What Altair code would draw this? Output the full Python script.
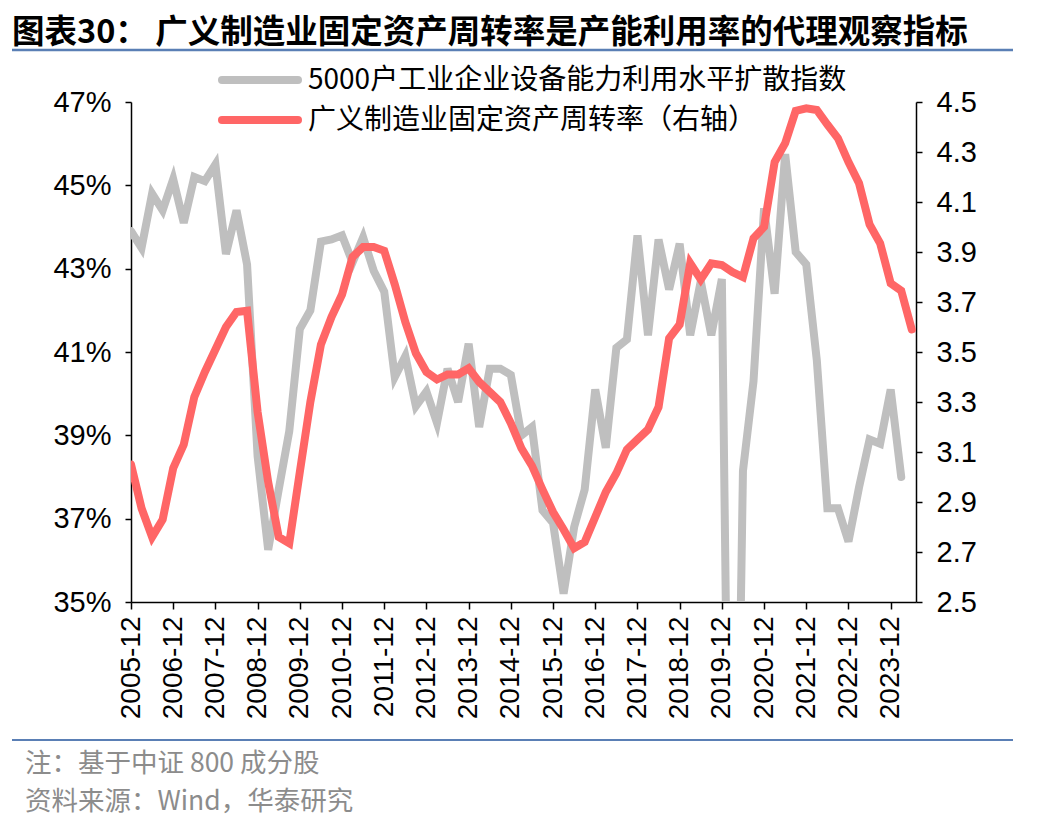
import altair as alt
import pandas as pd

# ---------------- data ----------------
title_text = "图表30：  广义制造业固定资产周转率是产能利用率的代理观察指标"
series_names = ["5000户工业企业设备能力利用水平扩散指数", "广义制造业固定资产周转率（右轴）"]
note_lines = ["注：基于中证 800 成分股", "资料来源：Wind，华泰研究"]

tick_labels = ["2005-12", "2006-12", "2007-12", "2008-12", "2009-12", "2010-12",
               "2011-12", "2012-12", "2013-12", "2014-12", "2015-12", "2016-12",
               "2017-12", "2018-12", "2019-12", "2020-12", "2021-12", "2022-12",
               "2023-12"]

# quarterly, starting 2005-12 (left axis, %)
utilization = [43.9, 43.5, 44.8, 44.4, 45.15, 44.1, 45.2, 45.1, 45.5, 43.35,
               44.4, 43.1, 38.5, 36.25, 37.7, 39.1, 41.55, 42.0, 43.65, 43.7,
               43.8, 43.15, 43.75, 42.95, 42.45, 40.4, 40.9, 39.7, 40.05, 39.3,
               40.6, 39.8, 41.2, 39.2, 40.6, 40.6, 40.45, 39.0, 39.2, 37.2,
               36.9, 35.2, 36.8, 37.7, 40.1, 38.7, 41.1, 41.3, 43.8, 41.4,
               43.7, 42.5, 43.6, 41.4, 42.7, 41.4, 42.75, 22.0, 38.15, 40.3,
               44.45, 42.4, 45.75, 43.4, 43.1, 40.8, 37.25, 37.25, 36.45, 37.75,
               38.9, 38.8, 40.1, 38.0]

# quarterly, starting 2005-12 (right axis)
turnover = [3.05, 2.875, 2.76, 2.83, 3.035, 3.13, 3.32, 3.42, 3.51, 3.60,
            3.66, 3.665, 3.26, 2.98, 2.76, 2.735, 3.02, 3.30, 3.53, 3.64,
            3.73, 3.88, 3.92, 3.92, 3.905, 3.77, 3.62, 3.495, 3.42, 3.39,
            3.41, 3.41, 3.435, 3.38, 3.34, 3.30, 3.215, 3.115, 3.045, 2.95,
            2.86, 2.79, 2.715, 2.74, 2.84, 2.94, 3.015, 3.11, 3.15, 3.19,
            3.28, 3.555, 3.61, 3.855, 3.79, 3.855, 3.848, 3.82, 3.80, 3.955,
            4.0, 4.26, 4.335, 4.465, 4.475, 4.468, 4.41, 4.355, 4.26, 4.175,
            4.01, 3.935, 3.775, 3.745, 3.59]

left_ticks = [35, 37, 39, 41, 43, 45, 47]
right_ticks = [2.5, 2.7, 2.9, 3.1, 3.3, 3.5, 3.7, 3.9, 4.1, 4.3, 4.5]

# ---------------- styling ----------------
GRAY = "#BFBFBF"
RED = "#FF6666"
BLUE = "#5A7FB5"
NUM_FONT = "Liberation Sans"
CJK_FONT = "Noto Sans CJK SC"
W, H = 785, 500

gray_df = pd.DataFrame({"q": list(range(len(utilization))), "v": utilization})
red_df = pd.DataFrame({"q": list(range(len(turnover))), "v": turnover})

label_array = "[" + ",".join("'" + t + "'" for t in tick_labels) + "]"
x_values = [4 * i for i in range(len(tick_labels))]

x_enc = alt.X(
    "q:Q",
    scale=alt.Scale(domain=[0, 74.4], nice=False, zero=False),
    axis=alt.Axis(
        values=x_values, labelExpr=label_array + "[round(datum.value/4)]",
        labelAngle=270, labelAlign="right", labelBaseline="middle",
        labelFont=NUM_FONT, labelFontSize=28, labelColor="black", labelPadding=7,
        tickSize=7, tickColor="black", tickWidth=1.5, domainColor="black",
        domainWidth=1.5, grid=False, title=None, labelOverlap=False,
    ),
)

axis_common = dict(labelFont=NUM_FONT, labelFontSize=29, labelColor="black",
                   tickSize=6, tickColor="black", tickWidth=1.5, domainColor="black",
                   domainWidth=1.5, grid=False, title=None, labelOverlap=False)

gray_line = alt.Chart(gray_df).mark_line(
    color=GRAY, strokeWidth=8, clip=True, strokeCap="round"
).encode(
    x=x_enc,
    y=alt.Y("v:Q", scale=alt.Scale(domain=[35, 47], nice=False, zero=False),
            axis=alt.Axis(orient="left", values=left_ticks,
                          labelExpr="datum.value + '%'", labelPadding=14,
                          **axis_common)),
)

red_line = alt.Chart(red_df).mark_line(
    color=RED, strokeWidth=8, clip=True, strokeCap="round"
).encode(
    x=x_enc,
    y=alt.Y("v:Q", scale=alt.Scale(domain=[2.5, 4.5], nice=False, zero=False),
            axis=alt.Axis(orient="right", values=right_ticks, format=".1f",
                          labelPadding=14, **axis_common)),
)

one = pd.DataFrame({"k": [0]})

def rule(x1, x2, y, color, width, cap="butt"):
    return alt.Chart(one).mark_rule(color=color, strokeWidth=width, strokeCap=cap).encode(
        x=alt.value(x1), x2=alt.value(x2), y=alt.value(y))

def text(t, x, y, size, color="black", font=CJK_FONT, weight="normal"):
    return alt.Chart(pd.DataFrame({"t": [t]})).mark_text(
        align="left", baseline="middle", fontSize=size, color=color,
        font=font, fontWeight=weight).encode(
        text="t:N", x=alt.value(x), y=alt.value(y))

decor = [
    text(title_text, -119, -69, 32.5, weight="bold"),
    rule(-119, 882, -52, BLUE, 2.5),
    rule(91, 167, -22, GRAY, 8, "round"),
    text(series_names[0], 177, -21, 28),
    rule(91, 167, 18, RED, 8, "round"),
    text(series_names[1], 177, 19, 28),
    rule(-119, 882, 638, BLUE, 2),
    text(note_lines[0], -106, 662, 26.5, color="#8C8C8C"),
    text(note_lines[1], -106, 700, 26.5, color="#8C8C8C"),
]

chart = alt.layer(gray_line, red_line, *decor).resolve_scale(
    y="independent"
).properties(
    width=W, height=H, autosize="none",
    padding={"left": 123, "top": 94, "right": 124, "bottom": 218},
).configure_view(stroke=None)

chart.save("out.html", embed_options={"renderer": "svg", "actions": False})
